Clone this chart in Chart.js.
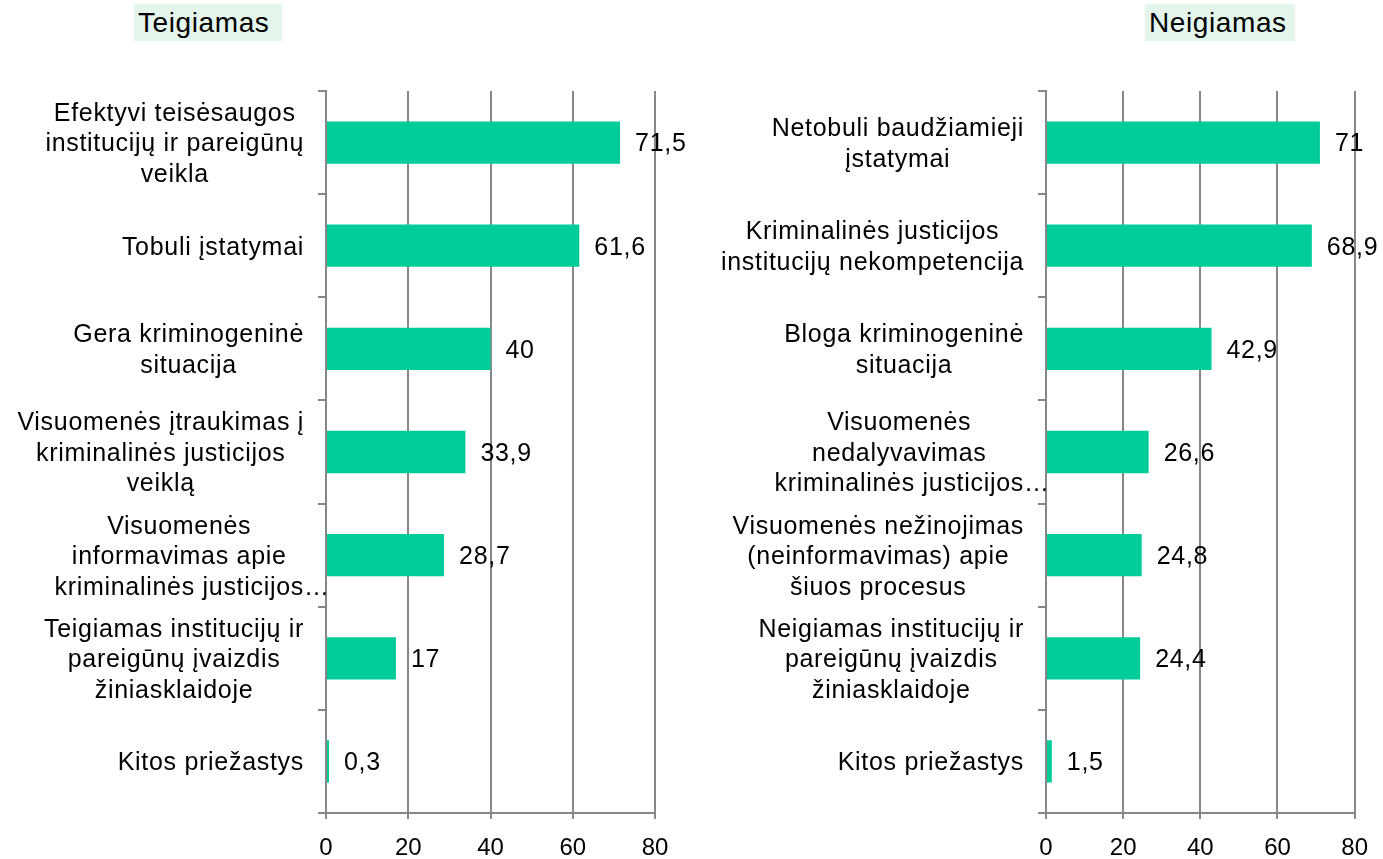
<!DOCTYPE html>
<html>
<head>
<meta charset="utf-8">
<script src="https://cdn.jsdelivr.net/npm/chart.js@4/dist/chart.umd.min.js"></script>
<style>
  html,body{margin:0;padding:0;background:#fff;}
  body{width:1383px;height:859px;position:relative;overflow:hidden;font-family:"Liberation Sans",Arial,sans-serif;}
  .ttl{position:absolute;top:4px;height:37px;background:#E4F5EC;font-size:28px;line-height:38px;color:#000;letter-spacing:0.6px;box-sizing:border-box;padding-left:4px;white-space:nowrap;}
  canvas{position:absolute;}
</style>
</head>
<body>
<div class="ttl" id="t1" style="left:134px;width:148px;"></div>
<div class="ttl" id="t2" style="left:1145px;width:150px;"></div>
<canvas id="c1" width="700" height="799" style="left:0;top:60px;"></canvas>
<canvas id="c2" width="683" height="799" style="left:700px;top:60px;"></canvas>
<script>
const leftTitle = "Teigiamas";
const rightTitle = "Neigiamas";
const leftCategories = [
  ["Efektyvi teisėsaugos","institucijų ir pareigūnų","veikla"],
  ["Tobuli įstatymai"],
  ["Gera kriminogeninė","situacija"],
  ["Visuomenės įtraukimas į","kriminalinės justicijos","veiklą"],
  ["Visuomenės","informavimas apie","kriminalinės justicijos…"],
  ["Teigiamas institucijų ir","pareigūnų įvaizdis","žiniasklaidoje"],
  ["Kitos priežastys"]
];
const leftValues = [71.5, 61.6, 40, 33.9, 28.7, 17, 0.3];
const rightCategories = [
  ["Netobuli baudžiamieji","įstatymai"],
  ["Kriminalinės justicijos","institucijų nekompetencija"],
  ["Bloga kriminogeninė","situacija"],
  ["Visuomenės","nedalyvavimas","kriminalinės justicijos…"],
  ["Visuomenės nežinojimas","(neinformavimas) apie","šiuos procesus"],
  ["Neigiamas institucijų ir","pareigūnų įvaizdis","žiniasklaidoje"],
  ["Kitos priežastys"]
];
const rightValues = [71, 68.9, 42.9, 26.6, 24.8, 24.4, 1.5];
const xTicks = [0, 20, 40, 60, 80];

document.getElementById('t1').textContent = leftTitle;
document.getElementById('t2').textContent = rightTitle;

const FONT = '"Liberation Sans", Arial, sans-serif';
const GRID = '#878787';
const BAR = '#00CC99';

const labelPlugin = {
  id: 'catLabels',
  afterDraw(chart) {
    const ctx = chart.ctx;
    const ys = chart.scales.y;
    const cats = chart.data.labels;
    const lh = 30.5;
    ctx.save();
    ctx.font = '25px ' + FONT;
    ctx.letterSpacing = '0.7px';
    ctx.fillStyle = '#000';
    ctx.textAlign = 'left';
    ctx.textBaseline = 'middle';
    const right = ys.right - 22;
    const core = l => l.endsWith('…') ? l.slice(0, -1) : l;
    cats.forEach((lines, i) => {
      const bw = Math.max(...lines.map(l => ctx.measureText(core(l)).width));
      const cx = right - bw / 2;
      const yc = ys.getPixelForTick(i) + 2;
      const y0 = yc - (lines.length - 1) * lh / 2;
      lines.forEach((l, k) => {
        const w = ctx.measureText(core(l)).width;
        ctx.fillText(l, cx - w / 2, y0 + k * lh);
      });
    });
    // value labels
    const meta = chart.getDatasetMeta(0);
    meta.data.forEach((bar, i) => {
      const v = chart.data.datasets[0].data[i];
      ctx.fillText(String(v).replace('.', ','), bar.x + 15, bar.y + 2);
    });
    ctx.restore();
  }
};

function makeChart(id, cats, vals, yWidth, padRight) {
  return new Chart(document.getElementById(id), {
    type: 'bar',
    data: {
      labels: cats,
      datasets: [{ data: vals, backgroundColor: BAR, borderWidth: 0,
                   barPercentage: 0.41, categoryPercentage: 1, minBarLength: 3 }]
    },
    options: {
      indexAxis: 'y',
      responsive: false,
      animation: false,
      devicePixelRatio: 1,
      layout: { padding: { top: 31, right: padRight, left: 0, bottom: 0 } },
      plugins: { legend: { display: false }, tooltip: { enabled: false }, title: { display: false } },
      scales: {
        x: {
          min: 0, max: 80,
          afterBuildTicks(s) { s.ticks = xTicks.map(v => ({ value: v })); },
          afterFit(s) { s.height = 46; },
          ticks: { font: { size: 24, family: FONT }, color: '#000', padding: 15 },
          grid: { color: GRID, lineWidth: 2, tickLength: 6, drawTicks: true },
          border: { color: GRID, width: 2 }
        },
        y: {
          afterFit(s) { s.width = yWidth; },
          ticks: { display: false },
          grid: { drawOnChartArea: false, drawTicks: true, tickLength: 8, offset: true, color: GRID, lineWidth: 2 },
          border: { color: GRID, width: 2 }
        }
      }
    },
    plugins: [labelPlugin]
  });
}

makeChart('c1', leftCategories, leftValues, 326, 45);
makeChart('c2', rightCategories, rightValues, 346, 28);
</script>
</body>
</html>
